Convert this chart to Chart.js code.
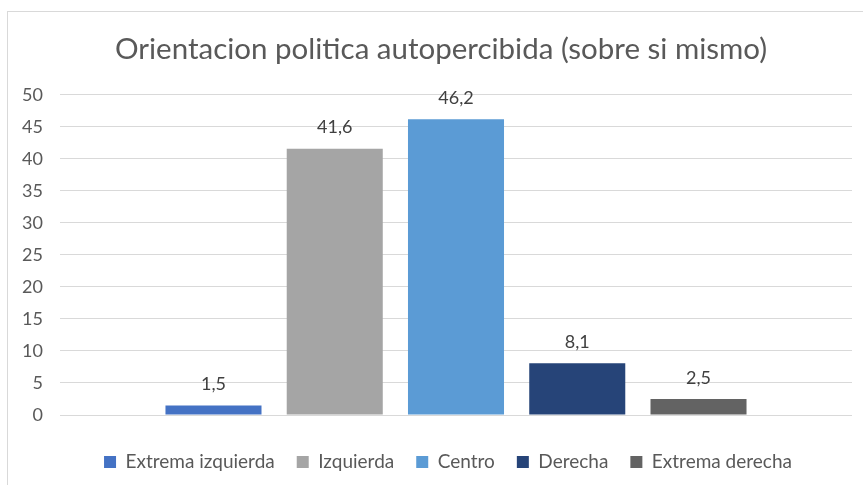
<!DOCTYPE html>
<html>
<head>
<meta charset="utf-8">
<script src="https://cdn.jsdelivr.net/npm/chart.js@4/dist/chart.umd.min.js"></script>
<style>
  html, body { margin: 0; padding: 0; background: #ffffff; }
  #wrap { position: relative; width: 863px; height: 485px; }
</style>
</head>
<body>
<div id="wrap"><canvas id="c" width="863" height="485"></canvas></div>
<script>
// ---- data ----
const chartTitle = "Orientacion politica autopercibida (sobre si mismo)";
const categories = [""];
const seriesNames = ["Extrema izquierda", "Izquierda", "Centro", "Derecha", "Extrema derecha"];
const seriesValues = [1.5, 41.6, 46.2, 8.1, 2.5];
const seriesColors = ["#4472C4", "#A5A5A5", "#5B9BD5", "#264478", "#636363"];
const yMin = 0, yMax = 50, yStep = 5;

const FONT = "Lato, 'Open Sans', 'Noto Sans', sans-serif";

const datasets = seriesNames.map((name, i) => ({
  label: name,
  data: [seriesValues[i]],
  backgroundColor: seriesColors[i],
  borderWidth: 0,
  categoryPercentage: 0.7655,
  barPercentage: 0.792
}));

const frame = {
  id: 'frame',
  beforeDraw(chart) {
    const ctx = chart.ctx;
    ctx.save();
    ctx.strokeStyle = '#d9d9d9';
    ctx.lineWidth = 1;
    ctx.strokeRect(7.5, 11.5, 900, 520);
    ctx.restore();
  }
};

// centre title and legend on the outer frame rather than the full canvas
const shiftBoxes = {
  id: 'shiftBoxes',
  afterLayout(chart) {
    if (chart.titleBlock) chart.titleBlock.left = 30;
    if (chart.legend) chart.legend.left = 44;
  }
};

const valueLabels = {
  id: 'valueLabels',
  afterDatasetsDraw(chart) {
    const ctx = chart.ctx;
    ctx.save();
    ctx.font = "18px " + FONT;
    ctx.fillStyle = '#404040';
    ctx.textAlign = 'center';
    ctx.textBaseline = 'middle';
    chart.data.datasets.forEach((ds, i) => {
      const meta = chart.getDatasetMeta(i);
      meta.data.forEach((bar, j) => {
        const v = ds.data[j];
        ctx.fillText(v.toFixed(1).replace('.', ','), bar.x, bar.y - 21);
      });
    });
    ctx.restore();
  }
};

new Chart(document.getElementById('c'), {
  type: 'bar',
  data: { labels: categories, datasets },
  options: {
    responsive: false,
    animation: false,
    layout: { padding: { left: 0, right: 11, top: 0, bottom: 3.5 } },
    plugins: {
      title: {
        display: true,
        text: chartTitle,
        color: '#595959',
        font: { family: FONT, size: 29.5, weight: 'normal' },
        padding: { top: 32, bottom: 27.5 }
      },
      legend: {
        display: true,
        position: 'bottom',
        labels: {
          color: '#595959',
          font: { family: FONT, size: 19 },
          boxWidth: 12,
          boxHeight: 12,
          padding: 22
        }
      },
      tooltip: { enabled: false }
    },
    scales: {
      x: {
        display: true,
        ticks: { display: false },
        grid: { display: false },
        border: { display: false },
        afterFit(s) { s.height = 15.5; }
      },
      y: {
        min: yMin,
        max: yMax,
        ticks: {
          stepSize: yStep,
          color: '#595959',
          font: { family: FONT, size: 18 },
          padding: 17
        },
        grid: { color: '#d9d9d9', lineWidth: 1, drawTicks: false },
        border: { display: false },
        afterFit(s) { s.width = 60; }
      }
    }
  },
  plugins: [frame, shiftBoxes, valueLabels]
});
</script>
</body>
</html>
